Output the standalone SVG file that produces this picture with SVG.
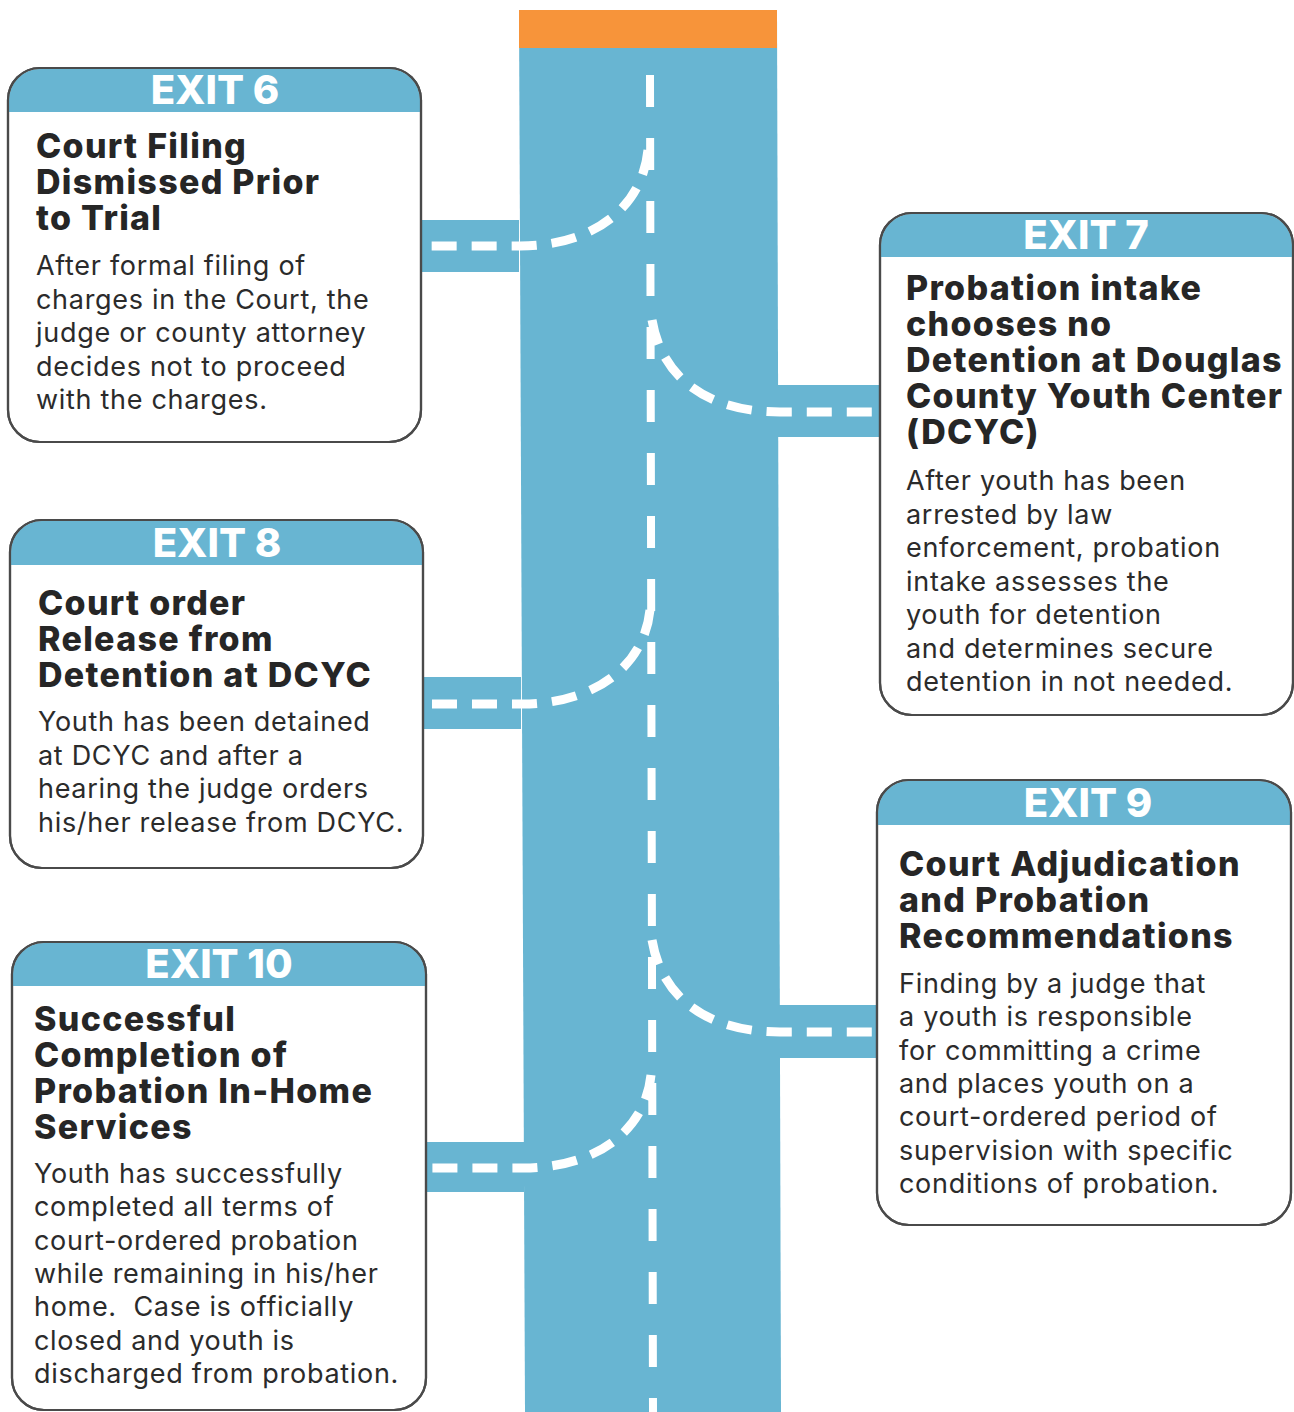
<svg xmlns="http://www.w3.org/2000/svg" width="1294" height="1412" viewBox="0 0 1294 1412">
<defs>
<style>
.road{fill:#68b5d2}
.band{fill:#68b5d2}
.lane{fill:none;stroke:#ffffff;stroke-width:8;stroke-dasharray:32 31}
.ramp{fill:none;stroke:#ffffff;stroke-width:9;stroke-dasharray:25 15}
.card{fill:#ffffff;stroke:#4a4a4a;stroke-width:2.2}
.hdr{fill:#68b5d2}
.exit{font-family:Inter,"Liberation Sans",sans-serif;font-weight:800;font-size:40px;fill:#ffffff;text-anchor:middle}
.title{font-family:Inter,"Liberation Sans",sans-serif;font-weight:800;font-size:34px;letter-spacing:1.3px;fill:#262626}
.body{font-family:Inter,"Liberation Sans",sans-serif;font-weight:400;font-size:27px;letter-spacing:0.7px;fill:#2b2b2b}
</style>
</defs>
<rect width="1294" height="1412" fill="#ffffff"/>

<g id="road">
<polygon class="road" points="519,10 777,10 781,1412 525,1412"/>
<rect x="519" y="10" width="258" height="38" fill="#f7943a"/>
</g>

<g id="connectors">
<path class="band" d="M419,220 H519 V272 H419 Z"/>
<path class="band" d="M777,385 H882 V437 H777 Z"/>
<path class="band" d="M421,677 H521 V729 H421 Z"/>
<path class="band" d="M779,1005 H879 V1058 H779 Z"/>
<path class="band" d="M424,1142 H524 V1192 H424 Z"/>
<path class="lane" d="M650,75 L653,1412"/>
<path class="ramp" d="M648,150 C642,210 590,246 520,246 H421"/>
<path class="ramp" d="M652,320 C662,380 710,412 780,412 H880"/>
<path class="ramp" d="M650,610 C644,668 592,704 522,704 H423"/>
<path class="ramp" d="M652,940 C662,1000 710,1032 780,1032 H877"/>
<path class="ramp" d="M651,1075 C645,1133 593,1168 523,1168 H426"/>
</g>

<g id="exit6">
<rect class="card" x="8" y="68" width="413" height="374" rx="32"/>
<path class="hdr" d="M9,112 V100 A31,31 0 0 1 40,69 H389 A31,31 0 0 1 420,100 V112 Z"/>
<rect x="8" y="68" width="413" height="374" rx="32" fill="none" stroke="#4a4a4a" stroke-width="2.2"/>
<text class="exit" x="215" y="104">EXIT 6</text>
<text class="title"><tspan x="36" y="158">Court Filing</tspan><tspan x="36" dy="36">Dismissed Prior</tspan><tspan x="36" dy="36">to Trial</tspan></text>
<text class="body"><tspan x="36" y="275">After formal filing of</tspan><tspan x="36" dy="33.5">charges in the Court, the</tspan><tspan x="36" dy="33.5">judge or county attorney</tspan><tspan x="36" dy="33.5">decides not to proceed</tspan><tspan x="36" dy="33.5">with the charges.</tspan></text>
</g>

<g id="exit7">
<rect class="card" x="880" y="213" width="413" height="502" rx="32"/>
<path class="hdr" d="M881,257 V245 A31,31 0 0 1 912,214 H1261 A31,31 0 0 1 1292,245 V257 Z"/>
<rect x="880" y="213" width="413" height="502" rx="32" fill="none" stroke="#4a4a4a" stroke-width="2.2"/>
<text class="exit" x="1086" y="249">EXIT 7</text>
<text class="title"><tspan x="906" y="300">Probation intake</tspan><tspan x="906" dy="36">chooses no</tspan><tspan x="906" dy="36">Detention at Douglas</tspan><tspan x="906" dy="36">County Youth Center</tspan><tspan x="906" dy="36">(DCYC)</tspan></text>
<text class="body"><tspan x="906" y="490">After youth has been</tspan><tspan x="906" dy="33.5">arrested by law</tspan><tspan x="906" dy="33.5">enforcement, probation</tspan><tspan x="906" dy="33.5">intake assesses the</tspan><tspan x="906" dy="33.5">youth for detention</tspan><tspan x="906" dy="33.5">and determines secure</tspan><tspan x="906" dy="33.5">detention in not needed.</tspan></text>
</g>

<g id="exit8">
<rect class="card" x="10" y="520" width="413" height="348" rx="32"/>
<path class="hdr" d="M11,565 V552 A31,31 0 0 1 42,521 H391 A31,31 0 0 1 422,552 V565 Z"/>
<rect x="10" y="520" width="413" height="348" rx="32" fill="none" stroke="#4a4a4a" stroke-width="2.2"/>
<text class="exit" x="217" y="557">EXIT 8</text>
<text class="title"><tspan x="38" y="615">Court order</tspan><tspan x="38" dy="36">Release from</tspan><tspan x="38" dy="36">Detention at DCYC</tspan></text>
<text class="body"><tspan x="38" y="731">Youth has been detained</tspan><tspan x="38" dy="33.5">at DCYC and after a</tspan><tspan x="38" dy="33.5">hearing the judge orders</tspan><tspan x="38" dy="33.5">his/her release from DCYC.</tspan></text>
</g>

<g id="exit9">
<rect class="card" x="877" y="780" width="414" height="445" rx="32"/>
<path class="hdr" d="M878,825 V812 A31,31 0 0 1 909,781 H1259 A31,31 0 0 1 1290,812 V825 Z"/>
<rect x="877" y="780" width="414" height="445" rx="32" fill="none" stroke="#4a4a4a" stroke-width="2.2"/>
<text class="exit" x="1088" y="817">EXIT 9</text>
<text class="title"><tspan x="899" y="876">Court Adjudication</tspan><tspan x="899" dy="36">and Probation</tspan><tspan x="899" dy="36">Recommendations</tspan></text>
<text class="body"><tspan x="899" y="993">Finding by a judge that</tspan><tspan x="899" dy="33.3">a youth is responsible</tspan><tspan x="899" dy="33.3">for committing a crime</tspan><tspan x="899" dy="33.3">and places youth on a</tspan><tspan x="899" dy="33.3">court-ordered period of</tspan><tspan x="899" dy="33.3">supervision with specific</tspan><tspan x="899" dy="33.3">conditions of probation.</tspan></text>
</g>

<g id="exit10">
<rect class="card" x="12" y="942" width="414" height="468" rx="32"/>
<path class="hdr" d="M13,986 V974 A31,31 0 0 1 44,943 H394 A31,31 0 0 1 425,974 V986 Z"/>
<rect x="12" y="942" width="414" height="468" rx="32" fill="none" stroke="#4a4a4a" stroke-width="2.2"/>
<text class="exit" x="219" y="978">EXIT 10</text>
<text class="title"><tspan x="34" y="1031">Successful</tspan><tspan x="34" dy="36">Completion of</tspan><tspan x="34" dy="36">Probation In-Home</tspan><tspan x="34" dy="36">Services</tspan></text>
<text class="body" xml:space="preserve"><tspan x="34" y="1183">Youth has successfully</tspan><tspan x="34" dy="33.3">completed all terms of</tspan><tspan x="34" dy="33.3">court-ordered probation</tspan><tspan x="34" dy="33.3">while remaining in his/her</tspan><tspan x="34" dy="33.3">home.  Case is officially</tspan><tspan x="34" dy="33.3">closed and youth is</tspan><tspan x="34" dy="33.3">discharged from probation.</tspan></text>
</g>
</svg>
